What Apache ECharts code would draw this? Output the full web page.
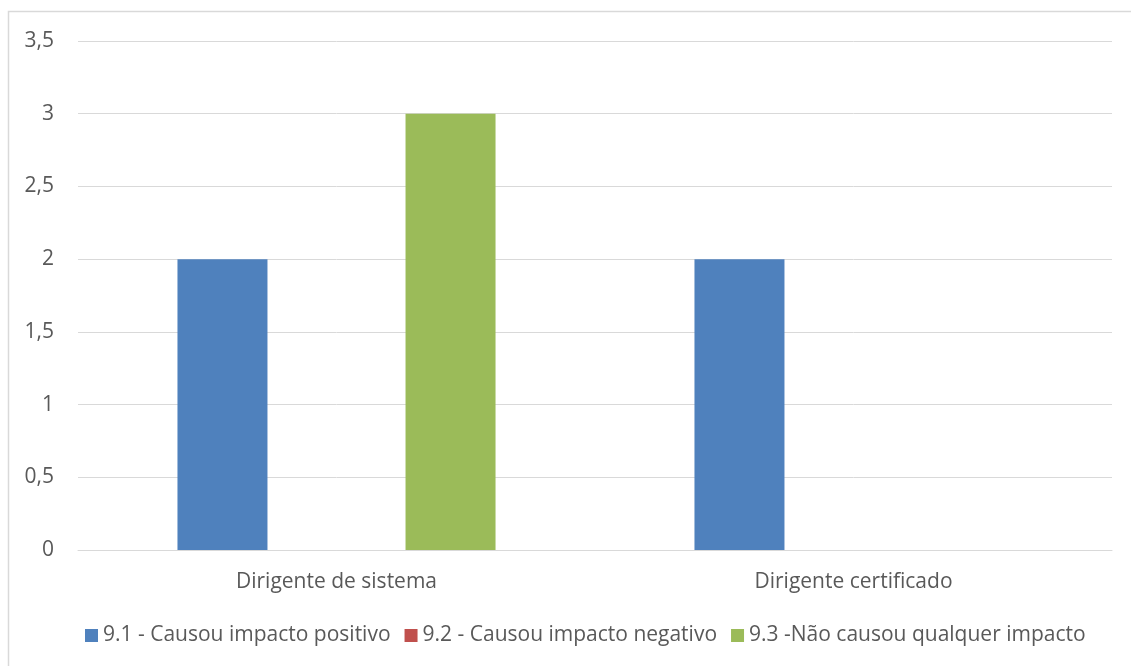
<!DOCTYPE html>
<html>
<head>
<meta charset="utf-8">
<style>
  html, body { margin: 0; padding: 0; background: #fff; }
  #chart { width: 1131px; height: 666px; }
</style>
<script src="https://cdn.jsdelivr.net/npm/echarts@6/dist/echarts.min.js"></script>
</head>
<body>
<div id="chart"></div>
<script>
// Categories and series values
const categories = ['Dirigente de sistema', 'Dirigente certificado'];
const seriesNames = [
  '9.1 - Causou impacto positivo',
  '9.2 - Causou impacto negativo',
  '9.3 -Não causou qualquer impacto'
];
const positivo = [2, 2];
const negativo = [0, 0];
const semImpacto = [3, 0];
const seriesColors = ['#4F81BD', '#C0504D', '#9BBB59'];

const chart = echarts.init(document.getElementById('chart'));
const textColor = '#595959';
const fontFamily = '"Open Sans", "Noto Sans", sans-serif';
const fontSize = 21;

const values = [positivo, negativo, semImpacto];

chart.setOption({
  animation: false,
  textStyle: { fontFamily: fontFamily },
  graphic: [{
    type: 'rect',
    shape: { x: 8.5, y: 11.5, width: 1140, height: 700 },
    style: { fill: 'none', stroke: '#D9D9D9', lineWidth: 1.5 },
    silent: true
  }],
  grid: { left: 78, right: 19, top: 41, bottom: 116 },
  legend: {
    bottom: 15,
    left: 80,
    itemWidth: 13,
    itemHeight: 13,
    itemGap: 14,
    icon: 'rect',
    textStyle: { color: textColor, fontSize: fontSize, fontFamily: fontFamily },
    data: seriesNames
  },
  xAxis: {
    type: 'category',
    data: categories,
    axisLine: { show: true, lineStyle: { color: '#D9D9D9', width: 1 } },
    axisTick: { show: false },
    axisLabel: { color: textColor, fontSize: fontSize, margin: 22, fontFamily: fontFamily }
  },
  yAxis: {
    type: 'value',
    min: 0,
    max: 3.5,
    interval: 0.5,
    axisLine: { show: false },
    axisTick: { show: false },
    splitLine: { lineStyle: { color: '#D9D9D9', width: 1 } },
    axisLabel: {
      color: textColor,
      fontSize: fontSize,
      margin: 24,
      fontFamily: fontFamily,
      formatter: v => String(v).replace('.', ',')
    }
  },
  series: seriesNames.map((name, i) => ({
    name: name,
    type: 'bar',
    data: values[i],
    barWidth: 90,
    barGap: '26.7%',
    barCategoryGap: '38.5%',
    itemStyle: { color: seriesColors[i] }
  }))
});
</script>
</body>
</html>
